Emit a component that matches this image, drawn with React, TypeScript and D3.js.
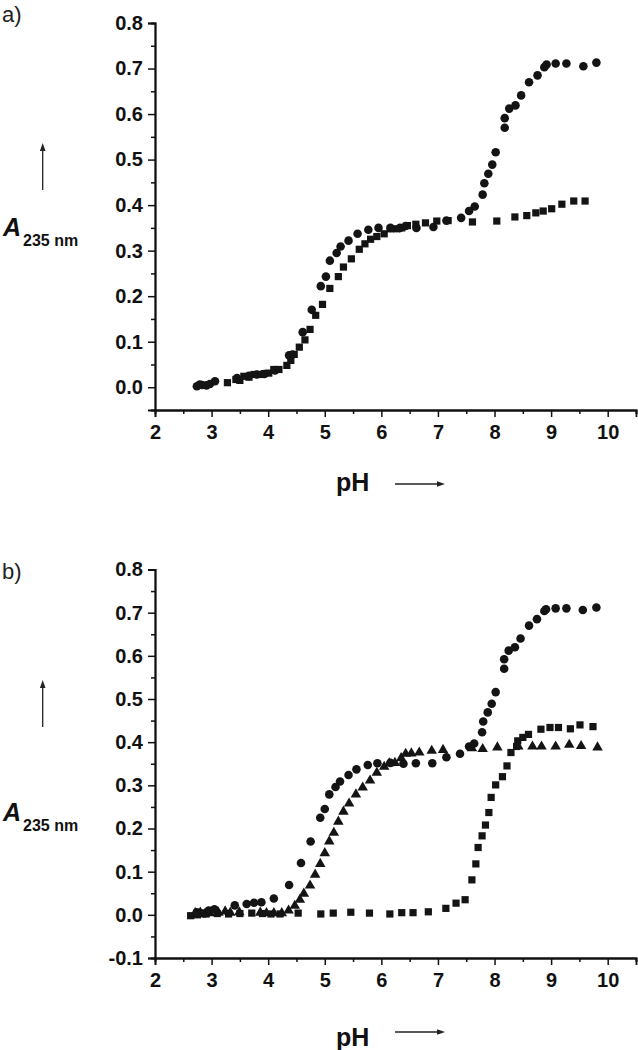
import React, { useEffect, useRef } from "react";
import * as d3 from "d3";

type Pt = [number, number];

// panel a) — pH vs A(235 nm)
const aCircles: Pt[] = [
  [2.74, 0.002], [2.79, 0.006], [2.83, 0.005], [2.91, 0.004], [2.97, 0.007], [3.06, 0.013],
  [3.45, 0.02], [3.66, 0.025], [3.8, 0.028], [3.93, 0.029], [4.12, 0.037], [4.37, 0.07],
  [4.43, 0.072], [4.61, 0.121], [4.77, 0.17], [4.93, 0.222], [5.02, 0.243], [5.09, 0.278],
  [5.21, 0.295], [5.28, 0.309], [5.42, 0.322], [5.58, 0.337], [5.77, 0.346], [5.95, 0.35],
  [6.16, 0.35], [6.33, 0.35], [6.43, 0.354], [6.62, 0.35], [6.92, 0.352], [7.15, 0.366],
  [7.41, 0.372], [7.55, 0.387], [7.65, 0.397], [7.79, 0.423], [7.82, 0.448], [7.89, 0.469],
  [7.96, 0.489], [8.02, 0.516], [8.18, 0.57], [8.18, 0.591], [8.26, 0.612], [8.37, 0.619],
  [8.47, 0.641], [8.61, 0.67], [8.76, 0.685], [8.88, 0.703], [8.92, 0.709], [9.08, 0.711],
  [9.27, 0.711], [9.57, 0.705], [9.8, 0.713],
];

const aSquares: Pt[] = [
  [3.28, 0.01], [3.43, 0.017], [3.5, 0.015], [3.57, 0.024], [3.66, 0.022], [3.75, 0.028],
  [3.84, 0.028], [3.93, 0.03], [4.01, 0.031], [4.1, 0.039], [4.19, 0.039], [4.33, 0.048],
  [4.4, 0.059], [4.46, 0.072], [4.55, 0.088], [4.65, 0.104], [4.74, 0.127], [4.84, 0.158],
  [4.96, 0.182], [5.09, 0.217], [5.24, 0.243], [5.33, 0.264], [5.47, 0.282], [5.61, 0.303],
  [5.71, 0.315], [5.81, 0.325], [5.92, 0.331], [6.05, 0.337], [6.16, 0.348], [6.27, 0.348],
  [6.36, 0.35], [6.46, 0.355], [6.61, 0.358], [6.78, 0.361], [6.98, 0.365], [7.18, 0.366],
  [7.61, 0.363], [8.04, 0.365], [8.36, 0.374], [8.57, 0.377], [8.73, 0.383], [8.86, 0.387],
  [9.01, 0.392], [9.19, 0.402], [9.4, 0.409], [9.6, 0.409],
];

// panel b)
const bCircles: Pt[] = [
  [2.74, 0.006], [2.8, 0.004], [2.87, 0.003], [2.95, 0.01], [3.05, 0.013], [3.41, 0.022],
  [3.62, 0.025], [3.75, 0.028], [3.88, 0.029], [4.1, 0.038], [4.37, 0.069], [4.58, 0.12],
  [4.75, 0.17], [4.92, 0.225], [5.0, 0.245], [5.08, 0.279], [5.19, 0.296], [5.27, 0.309],
  [5.42, 0.324], [5.56, 0.337], [5.76, 0.347], [5.93, 0.351], [6.16, 0.352], [6.39, 0.35],
  [6.61, 0.351], [6.9, 0.351], [7.15, 0.365], [7.39, 0.373], [7.55, 0.39], [7.64, 0.397],
  [7.78, 0.423], [7.8, 0.448], [7.88, 0.469], [7.95, 0.489], [8.02, 0.516], [8.17, 0.57],
  [8.17, 0.592], [8.25, 0.612], [8.36, 0.62], [8.46, 0.64], [8.61, 0.67], [8.75, 0.685],
  [8.88, 0.704], [8.91, 0.708], [9.08, 0.71], [9.27, 0.71], [9.56, 0.706], [9.8, 0.712],
];

const bSquares: Pt[] = [
  [2.63, -0.002], [2.75, 0.0], [2.9, 0.002], [3.1, 0.003], [3.3, 0.002], [3.5, 0.003],
  [3.71, 0.004], [3.9, 0.003], [4.05, 0.002], [4.21, 0.002], [4.53, 0.004], [4.93, 0.002],
  [5.15, 0.004], [5.46, 0.006], [5.79, 0.004], [6.15, 0.002], [6.36, 0.005], [6.56, 0.005],
  [6.83, 0.007], [7.14, 0.015], [7.32, 0.027], [7.48, 0.035], [7.6, 0.081], [7.67, 0.118],
  [7.71, 0.156], [7.78, 0.183], [7.84, 0.208], [7.9, 0.237], [7.94, 0.272], [8.02, 0.301],
  [8.14, 0.32], [8.22, 0.345], [8.29, 0.376], [8.39, 0.39], [8.41, 0.403], [8.5, 0.411],
  [8.6, 0.418], [8.82, 0.43], [8.98, 0.434], [9.13, 0.434], [9.34, 0.431], [9.51, 0.44],
  [9.74, 0.436],
];

const bTriangles: Pt[] = [
  [2.71, 0.004], [2.8, 0.005], [2.88, 0.002], [2.97, 0.004], [3.12, 0.005], [3.24, 0.008],
  [3.33, 0.005], [3.49, 0.006], [3.86, 0.005], [3.97, 0.004], [4.1, 0.004], [4.24, 0.004],
  [4.36, 0.01], [4.47, 0.021], [4.56, 0.035], [4.63, 0.049], [4.74, 0.068], [4.83, 0.093],
  [4.92, 0.118], [5.0, 0.143], [5.08, 0.17], [5.16, 0.19], [5.24, 0.216], [5.33, 0.239],
  [5.43, 0.258], [5.55, 0.279], [5.67, 0.295], [5.8, 0.311], [5.92, 0.329], [6.05, 0.343],
  [6.14, 0.351], [6.24, 0.352], [6.35, 0.363], [6.43, 0.373], [6.53, 0.374], [6.67, 0.376],
  [6.89, 0.38], [7.09, 0.382], [7.6, 0.386], [7.79, 0.384], [8.05, 0.388], [8.42, 0.39],
  [8.67, 0.39], [8.83, 0.39], [9.08, 0.39], [9.32, 0.394], [9.53, 0.391], [9.82, 0.388],
];

const xMajor = [2, 3, 4, 5, 6, 7, 8, 9, 10];
const xMinor = [2.5, 3.5, 4.5, 5.5, 6.5, 7.5, 8.5, 9.5, 10.5];

const FONT = "'Liberation Sans', Arial, Helvetica, sans-serif";

interface Series {
  data: Pt[];
  shape: d3.SymbolType;
  size: number;
}

interface PanelSpec {
  tag: string;
  tagY: number;
  top: number;
  bottom: number;
  yMin: number;
  yMajor: number[];
  yMinor: number[];
  arrowTop: number;
  arrowBottom: number;
  aBase: number;
  phBase: number;
  phArrowY: number;
  series: Series[];
}

const App: React.FC = () => {
  const svgRef = useRef<SVGSVGElement | null>(null);

  useEffect(() => {
    if (!svgRef.current) return;
    const svg = d3.select(svgRef.current);
    svg.selectAll("*").remove();

    const left = 155;
    const right = 636;

    const panels: PanelSpec[] = [
      {
        tag: "a)", tagY: 22, top: 23, bottom: 410, yMin: -0.05,
        yMajor: [0, 0.1, 0.2, 0.3, 0.4, 0.5, 0.6, 0.7, 0.8],
        yMinor: [-0.05, 0.05, 0.15, 0.25, 0.35, 0.45, 0.55, 0.65, 0.75],
        arrowTop: 143, arrowBottom: 190, aBase: 236, phBase: 491, phArrowY: 484,
        series: [
          { data: aSquares, shape: d3.symbolSquare, size: 52 },
          { data: aCircles, shape: d3.symbolCircle, size: 58 },
        ],
      },
      {
        tag: "b)", tagY: 579, top: 569.5, bottom: 958, yMin: -0.1,
        yMajor: [-0.1, 0, 0.1, 0.2, 0.3, 0.4, 0.5, 0.6, 0.7, 0.8],
        yMinor: [-0.05, 0.05, 0.15, 0.25, 0.35, 0.45, 0.55, 0.65, 0.75],
        arrowTop: 680, arrowBottom: 727, aBase: 821, phBase: 1046, phArrowY: 1032,
        series: [
          { data: bSquares, shape: d3.symbolSquare, size: 52 },
          { data: bTriangles, shape: d3.symbolTriangle, size: 48 },
          { data: bCircles, shape: d3.symbolCircle, size: 58 },
        ],
      },
    ];

    const arrowHead = (g: d3.Selection<SVGGElement, unknown, null, undefined>, x: number, y: number, dir: "up" | "right") => {
      const p = dir === "up"
        ? `M${x},${y} L${x - 2.8},${y + 8} L${x + 2.8},${y + 8} Z`
        : `M${x},${y} L${x - 8},${y - 2.8} L${x - 8},${y + 2.8} Z`;
      g.append("path").attr("d", p).attr("fill", "#222");
    };

    panels.forEach((p) => {
      const x = d3.scaleLinear().domain([2, 10.5]).range([left, right]);
      const y = d3.scaleLinear().domain([p.yMin, 0.8]).range([p.bottom, p.top]);
      const g = svg.append("g");

      g.append("text")
        .attr("x", 2).attr("y", p.tagY)
        .attr("font-family", FONT).attr("font-size", 22).attr("fill", "#222")
        .text(p.tag);

      // y axis
      const yAxis = g.append("g").attr("transform", `translate(${left},0)`)
        .call(d3.axisLeft(y).tickValues(p.yMajor).tickSize(7).tickPadding(5)
          .tickFormat((d) => (d as number).toFixed(1)));
      g.append("g").attr("transform", `translate(${left},0)`)
        .call(d3.axisLeft(y).tickValues(p.yMinor).tickSize(4).tickFormat(() => ""));

      // x axis
      const xAxis = g.append("g").attr("transform", `translate(0,${p.bottom})`)
        .call(d3.axisBottom(x).tickValues(xMajor).tickSize(7).tickPadding(8)
          .tickFormat((d) => String(d)));
      g.append("g").attr("transform", `translate(0,${p.bottom})`)
        .call(d3.axisBottom(x).tickValues(xMinor).tickSize(4).tickFormat(() => ""));

      g.selectAll(".domain").attr("stroke", "#111").attr("stroke-width", 1.8);
      g.selectAll(".tick line").attr("stroke", "#111").attr("stroke-width", 1.5);
      [yAxis, xAxis].forEach((a) =>
        a.selectAll("text")
          .attr("font-family", FONT).attr("font-size", 20).attr("font-weight", "bold").attr("fill", "#111"));

      // marks
      p.series.forEach((s) => {
        const sym = d3.symbol().type(s.shape).size(s.size);
        g.append("g").selectAll("path")
          .data(s.data)
          .enter()
          .append("path")
          .attr("d", sym as any)
          .attr("transform", (d) => `translate(${x(d[0])},${y(d[1])})`)
          .attr("fill", "#141414");
      });

      // y label with arrow
      g.append("line")
        .attr("x1", 42.7).attr("x2", 42.7).attr("y1", p.arrowBottom).attr("y2", p.arrowTop + 6)
        .attr("stroke", "#222").attr("stroke-width", 1.3);
      arrowHead(g, 42.7, p.arrowTop, "up");

      const aLabel = g.append("text")
        .attr("x", 3).attr("y", p.aBase)
        .attr("font-family", FONT).attr("font-weight", "bold").attr("fill", "#111");
      aLabel.append("tspan").attr("font-size", 25).attr("font-style", "italic").text("A");
      aLabel.append("tspan").attr("x", 23).attr("y", p.aBase + 10).attr("font-size", 16).text("235 nm");

      // x label with arrow
      g.append("text")
        .attr("x", 336).attr("y", p.phBase)
        .attr("font-family", FONT).attr("font-weight", "bold").attr("font-size", 25).attr("fill", "#111")
        .text("pH");
      g.append("line")
        .attr("x1", 395).attr("x2", 438).attr("y1", p.phArrowY).attr("y2", p.phArrowY)
        .attr("stroke", "#222").attr("stroke-width", 1.3);
      arrowHead(g, 445, p.phArrowY, "right");
    });
  }, []);

  return (
    <svg
      ref={svgRef}
      width={638}
      height={1050}
      style={{ position: "absolute", left: 0, top: 0, background: "#fff" }}
    />
  );
};

export default App;
